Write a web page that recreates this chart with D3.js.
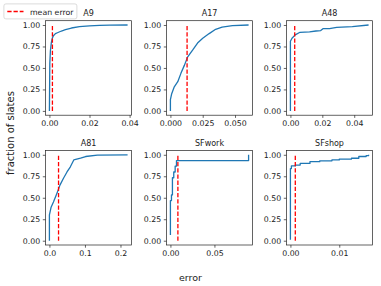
<!DOCTYPE html>
<html>
<head>
<meta charset="utf-8">
<script src="https://cdn.jsdelivr.net/npm/d3@7"></script>
<style>
  body { margin: 0; background: #fff; }
  svg { display: block; font-family: "DejaVu Sans", sans-serif; }
</style>
</head>
<body>
<script>
'use strict';

const titles = ['A9', 'A17', 'A48', 'A81', 'SFwork', 'SFshop'];

const errA9  = [0, 0.0002, 0.0005, 0.001, 0.0015, 0.002, 0.003, 0.004, 0.006, 0.008, 0.011, 0.015, 0.02, 0.025, 0.03, 0.039];
const fracA9 = [0, 0.55, 0.7, 0.8, 0.85, 0.875, 0.9, 0.91, 0.93, 0.945, 0.965, 0.98, 0.99, 0.995, 0.998, 1.0];

const errA17  = [0, 0, 0.001, 0.003, 0.0057, 0.0082, 0.0108, 0.0134, 0.0173, 0.021, 0.025, 0.030, 0.035, 0.040, 0.048, 0.0605];
const fracA17 = [0, 0.13, 0.2, 0.28, 0.34, 0.44, 0.53, 0.63, 0.71, 0.79, 0.845, 0.90, 0.95, 0.975, 0.993, 1.0];

const errA48  = [0, 0, 0.001, 0.003, 0.006, 0.012, 0.016, 0.019, 0.0204, 0.0245, 0.029, 0.0388, 0.049];
const fracA48 = [0, 0.81, 0.845, 0.885, 0.915, 0.92, 0.93, 0.935, 0.957, 0.957, 0.973, 0.98, 1.0];

const errA81  = [0, 0, 0.0048, 0.0114, 0.021, 0.030, 0.040, 0.0495, 0.059, 0.0686, 0.0876, 0.102, 0.135, 0.22];
const fracA81 = [0, 0.30, 0.39, 0.45, 0.55, 0.65, 0.73, 0.80, 0.86, 0.94, 0.96, 0.98, 0.996, 1.0];

const errSFwork  = [0, 0, 0.0012, 0.0023, 0.0038, 0.0054, 0.0069, 0.0888];
const fracSFwork = [0.067, 0.467, 0.533, 0.733, 0.8, 0.867, 0.933, 1.0];

const errSFshop  = [0, 0, 0.0002, 0.001, 0.002, 0.004, 0.006, 0.0085, 0.010, 0.0125, 0.014, 0.0155, 0.016];
const fracSFshop = [0.01, 0.84, 0.87, 0.88, 0.90, 0.92, 0.93, 0.94, 0.95, 0.96, 0.98, 0.99, 1.0];

const errors = [errA9, errA17, errA48, errA81, errSFwork, errSFshop];
const fractions = [fracA9, fracA17, fracA48, fracA81, fracSFwork, fracSFshop];
const stepped = [false, false, false, false, true, true];

const meanErrors = [0.0015, 0.0129, 0.0027, 0.0257, 0.0085, 0.001];

const xTicks = [[0, 0.02, 0.04], [0, 0.025, 0.05], [0, 0.02, 0.04], [0, 0.1, 0.2], [0, 0.05], [0, 0.01]];
const xTickFormats = ['.2f', '.3f', '.2f', '.1f', '.2f', '.2f'];
const yTicks = [0, 0.25, 0.5, 0.75, 1.0];

const width = 381;
const height = 286;
const colLefts = [45.5, 166.5, 286.5];
const rowTops = [20.7, 150.5];
const panelW = 86;
const panelH = 94.5;
const fs = 7.8;

const svg = d3.select('body')
  .append('svg')
  .attr('width', width)
  .attr('height', height);

function drawPanel(i) {
  const left = colLefts[i % 3];
  const top = rowTops[Math.floor(i / 3)];
  const xs = errors[i];
  const ys = fractions[i];

  // matplotlib-like 5% margin on the x range
  const xMin = d3.min(xs);
  const xMax = d3.max(xs);
  const pad = (xMax - xMin) * 0.05;

  const x = d3.scaleLinear()
    .domain([xMin - pad, xMax + pad])
    .range([left, left + panelW]);
  const y = d3.scaleLinear()
    .domain([-0.05, 1.05])
    .range([top + panelH, top]);

  const g = svg.append('g');

  const pts = xs.map((d, k) => [d, ys[k]]);
  const line = d3.line()
    .x(d => x(d[0]))
    .y(d => y(d[1]))
    .curve(stepped[i] ? d3.curveStepAfter : d3.curveLinear);

  g.append('path')
    .datum(pts)
    .attr('d', line)
    .attr('fill', 'none')
    .attr('stroke', '#1f77b4')
    .attr('stroke-width', 1.3)
    .attr('stroke-linejoin', 'round');

  g.append('line')
    .attr('x1', x(meanErrors[i]))
    .attr('x2', x(meanErrors[i]))
    .attr('y1', y(0))
    .attr('y2', y(1))
    .attr('stroke', '#ff0000')
    .attr('stroke-width', 1.3)
    .attr('stroke-dasharray', '4.3,1.9');

  const xAxis = d3.axisBottom(x)
    .tickValues(xTicks[i])
    .tickFormat(d3.format(xTickFormats[i]))
    .tickSizeInner(2.7)
    .tickSizeOuter(0)
    .tickPadding(2.7);
  const gx = g.append('g')
    .attr('transform', 'translate(0,' + (top + panelH) + ')')
    .call(xAxis);

  const yAxis = d3.axisLeft(y)
    .tickValues(yTicks)
    .tickFormat(d3.format('.2f'))
    .tickSizeInner(2.7)
    .tickSizeOuter(0)
    .tickPadding(2.7);
  const gy = g.append('g')
    .attr('transform', 'translate(' + left + ',0)')
    .call(yAxis);

  [gx, gy].forEach(a => {
    a.select('.domain').remove();
    a.selectAll('line').attr('stroke', '#222').attr('stroke-width', 0.7);
    a.selectAll('text')
      .attr('fill', '#222')
      .style('font-family', '"DejaVu Sans", sans-serif')
      .style('font-size', fs + 'px');
  });

  g.append('rect')
    .attr('x', left)
    .attr('y', top)
    .attr('width', panelW)
    .attr('height', panelH)
    .attr('fill', 'none')
    .attr('stroke', '#222')
    .attr('stroke-width', 0.7);

  g.append('text')
    .attr('x', left + panelW / 2)
    .attr('y', top - 4.7)
    .attr('text-anchor', 'middle')
    .style('font-size', '8px')
    .attr('fill', '#222')
    .text(titles[i]);
}

titles.forEach((t, i) => drawPanel(i));

// shared axis labels
svg.append('text')
  .attr('x', width / 2)
  .attr('y', 281)
  .attr('text-anchor', 'middle')
  .style('font-size', '9.5px')
  .attr('fill', '#222')
  .text('error');

svg.append('text')
  .attr('transform', 'translate(13.5,' + 133 + ')rotate(-90)')
  .attr('text-anchor', 'middle')
  .style('font-size', '10px')
  .attr('fill', '#222')
  .text('fraction of slates');

// legend
const legend = svg.append('g');
legend.append('rect')
  .attr('x', 3.9)
  .attr('y', 3.9)
  .attr('width', 73)
  .attr('height', 15)
  .attr('rx', 2)
  .attr('fill', '#fff')
  .attr('fill-opacity', 0.8)
  .attr('stroke', '#ccc')
  .attr('stroke-width', 0.7);
legend.append('line')
  .attr('x1', 7.3)
  .attr('x2', 23.5)
  .attr('y1', 11.5)
  .attr('y2', 11.5)
  .attr('stroke', '#ff0000')
  .attr('stroke-width', 1.3)
  .attr('stroke-dasharray', '4.3,1.9');
legend.append('text')
  .attr('x', 30)
  .attr('y', 14.5)
  .style('font-size', fs + 'px')
  .attr('fill', '#222')
  .text('mean error');
</script>
</body>
</html>
